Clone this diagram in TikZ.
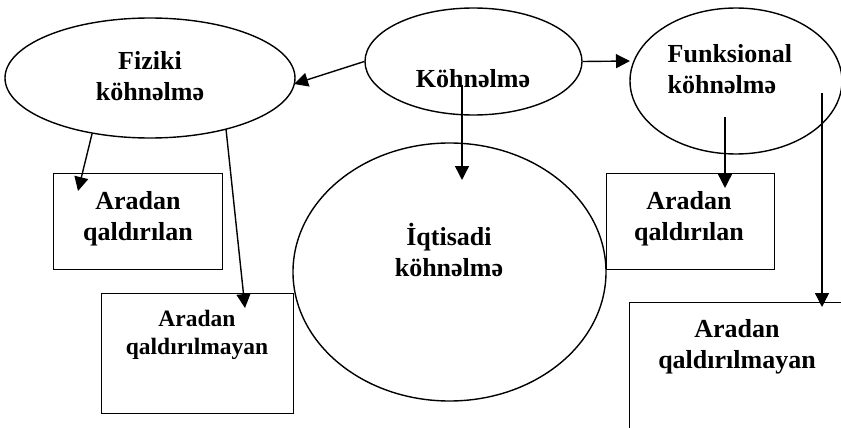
\documentclass[tikz,border=0pt]{standalone}
\usepackage{fontspec}
\setmainfont{Liberation Serif}
\usetikzlibrary{shapes.geometric,arrows.meta}
\begin{document}
\begin{tikzpicture}[x=1pt,y=-1pt,
  line width=1.4pt,
  oval/.style={draw,ellipse,inner sep=0pt},
  boxnode/.style={draw,rectangle,inner sep=0pt,anchor=north west},
  % two-line captions are placed by the baseline of their last line
  caption/.style={inner sep=0pt,align=center,anchor=base,
    font=\fontsize{26}{31}\selectfont\bfseries},
  smallcaption/.style={caption,font=\fontsize{23.5}{28}\selectfont\bfseries},
  link/.style={-{Triangle[length=14pt,width=14pt]}},
]
\useasboundingbox (0,0) rectangle (841,428);
\clip (0,0) rectangle (841,428);

% ellipses
\node[oval,minimum width=290,minimum height=120] (fiz) at (150,78) {};
\node[oval,minimum width=217,minimum height=107] (kohn) at (473.5,61.5) {};
\node[oval,minimum width=212,minimum height=146] (funk) at (736,81) {};
\node[oval,minimum width=313,minimum height=258] (iqt) at (449.5,272) {};

% boxes
\node[boxnode,minimum width=169,minimum height=96] (box1) at (53,173) {};
\node[boxnode,minimum width=192,minimum height=120] (box2) at (101,293) {};
\node[boxnode,minimum width=168,minimum height=96] (box3) at (606,173) {};
\node[boxnode,minimum width=240,minimum height=150] (box4) at (629,302) {};

% texts
\node[caption] (tfiz) at (150,100) {Fiziki\\köhnəlmə};
\node[caption] (tkohn) at (473,88) {Köhnəlmə};
\node[caption,align=left,anchor=base west] (tfunk) at (667,93) {Funksional\\köhnəlmə};
\node[caption] (tiqt) at (449,276) {İqtisadi\\köhnəlmə};
\node[caption] (tbox1) at (138,240) {Aradan\\qaldırılan};
\node[smallcaption] (tbox2) at (197,354) {Aradan\\qaldırılmayan};
\node[caption] (tbox3) at (689,240) {Aradan\\qaldırılan};
\node[caption] (tbox4) at (737,368) {Aradan\\qaldırılmayan};

% connector end points
\coordinate (kf1) at (kohn.west);
\coordinate (kf2) at (294,84);
\coordinate (kk1) at (kohn.east);
\coordinate (kk2) at (630,61);
\coordinate (ki1) at (462,85);
\coordinate (ki2) at (462,180);
\coordinate (fa1) at (92,134);
\coordinate (fa2) at (78,191);
\coordinate (fb1) at (226,129);
\coordinate (fb2) at (245,308);
\coordinate (ua1) at (725,117);
\coordinate (ua2) at (725,188);
\coordinate (ub1) at (822,93);
\coordinate (ub2) at (822,307);

% connectors
\draw[link] (kf1) -- (kf2);
\draw[link] (kk1) -- (kk2);
\draw[link] (ki1) -- (ki2);
\draw[link] (fa1) -- (fa2);
\draw[link] (fb1) -- (fb2);
\draw[link] (ua1) -- (ua2);
\draw[link] (ub1) -- (ub2);
\end{tikzpicture}
\end{document}
